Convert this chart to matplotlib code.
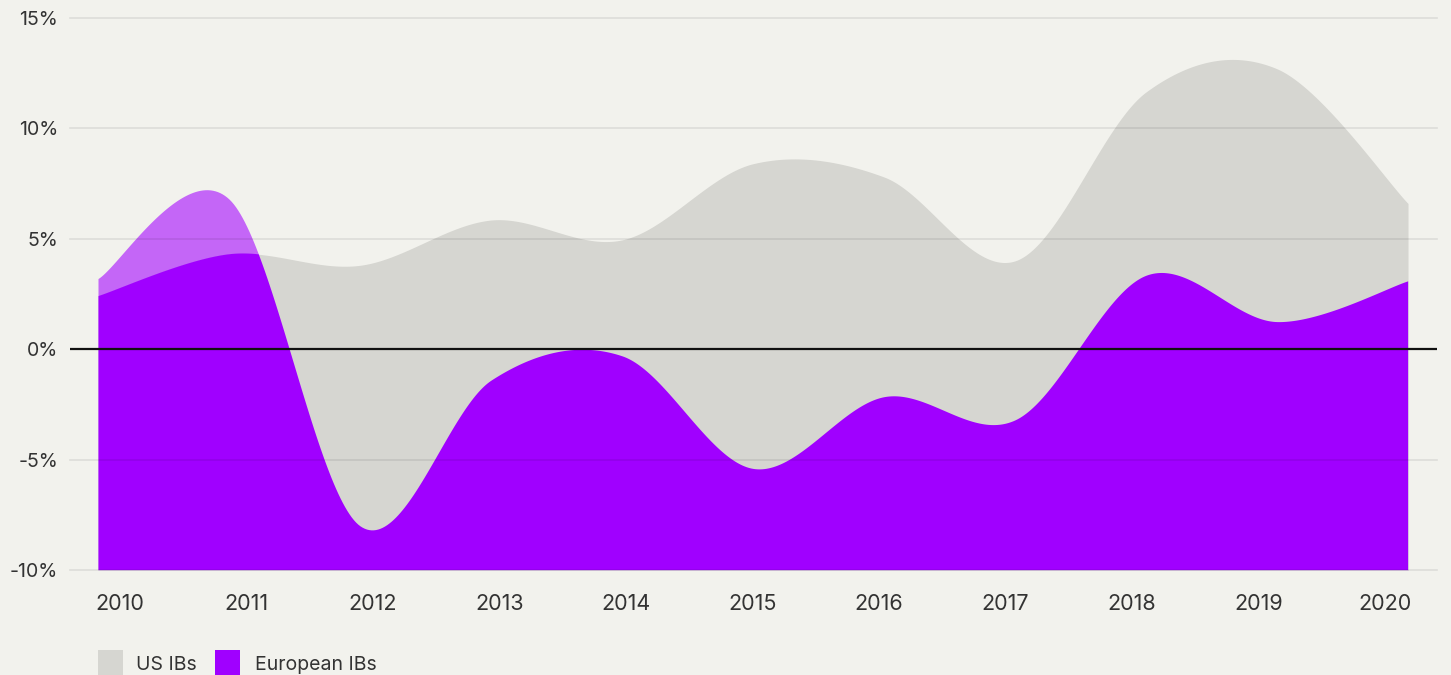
import numpy as np
import matplotlib
matplotlib.use("Agg")
import matplotlib.pyplot as plt
from matplotlib.patches import Rectangle

# ---- data ----
years = [2010, 2011, 2012, 2013, 2014, 2015, 2016, 2017, 2018, 2019, 2020]
us_ibs = [2.4, 4.3, 3.8, 5.85, 4.95, 8.4, 7.8, 4.0, 11.65, 12.7, 6.6]
eu_ibs = [3.2, 6.8, -8.0, -1.4, -0.3, -5.4, -2.15, -3.2, 3.35, 1.25, 3.1]
year_labels = [str(y) for y in years]
ytick_vals = [-10, -5, 0, 5, 10, 15]
ytick_labels = ["-10%", "-5%", "0%", "5%", "10%", "15%"]
series_names = ["US IBs", "European IBs"]

BG = "#f2f2ed"
GRAY = "#d6d6d1"
PURPLE = "#a000ff"
LIGHT_PURPLE = "#c466f7"
TEXT = "#333333"

plt.rcParams['font.family'] = ['Inter', 'DejaVu Sans']


def cardinal(xs, ys, n=60):
    """Catmull-Rom (cardinal, tension 0) curve like d3.curveCardinal."""
    xs = np.asarray(xs, float)
    ys = np.asarray(ys, float)
    px = np.concatenate([[xs[0]], xs, [xs[-1]]])
    py = np.concatenate([[ys[0]], ys, [ys[-1]]])
    t = np.linspace(0, 1, n)
    h00 = 2 * t**3 - 3 * t**2 + 1
    h10 = t**3 - 2 * t**2 + t
    h01 = -2 * t**3 + 3 * t**2
    h11 = t**3 - t**2
    ox, oy = [], []
    for i in range(len(xs) - 1):
        for p, o in ((px, ox), (py, oy)):
            p0, p1, p2, p3 = p[i], p[i + 1], p[i + 2], p[i + 3]
            m1 = (p2 - p0) / 2
            m2 = (p3 - p1) / 2
            seg = h00 * p1 + h10 * m1 + h01 * p2 + h11 * m2
            o.append(seg if i == 0 else seg[1:])
    return np.concatenate(ox), np.concatenate(oy)


W, H = 1451, 675
fig = plt.figure(figsize=(W / 100, H / 100), dpi=100, facecolor=BG)
ax = fig.add_axes([70 / W, (H - 570) / H, (1437 - 70) / W, (570 - 18) / H])
ax.set_facecolor(BG)

x0 = years[0] - 28 / 131
x1 = years[-1] + 29 / 131
ax.set_xlim(x0, x1)
ax.set_ylim(-10, 15)

ux, uy = cardinal(years, us_ibs)
ex, ey = cardinal(years, eu_ibs)

# light purple (European above US), under the gray area
ax.fill_between(ex, -10, ey, color=LIGHT_PURPLE, lw=0, zorder=1)
gray_poly = ax.fill_between(ux, -10, uy, color=GRAY, lw=0, zorder=2)
# solid purple, clipped to the gray area
purple_poly = ax.fill_between(ex, -10, ey, color=PURPLE, lw=0, zorder=3)
purple_poly.set_clip_path(gray_poly.get_paths()[0], ax.transData)

# gridlines
for v in ytick_vals:
    if v == 0:
        continue
    ax.axhline(v, color="black", alpha=0.085, lw=1.2, zorder=4, clip_on=False)
ax.axhline(0, color="#111111", lw=1.6, zorder=5)

for s in ax.spines.values():
    s.set_visible(False)

ax.set_yticks(ytick_vals)
ax.set_yticklabels(ytick_labels)
ax.tick_params(axis="y", length=0, pad=8.5, labelsize=14, labelcolor=TEXT)

label_pos = np.linspace(years[0] + 22 / 131, years[-1] - 23 / 131, len(years))
ax.set_xticks(label_pos)
ax.set_xticklabels(year_labels)
ax.tick_params(axis="x", length=0, pad=17, labelsize=15.5, labelcolor=TEXT)

# legend
def fig_rect(xp, yp, wp, hp, color):
    fig.add_artist(Rectangle((xp / W, (H - yp - hp) / H), wp / W, hp / H,
                             transform=fig.transFigure, color=color, lw=0))

fig_rect(98, 650, 25, 30, GRAY)
fig.text(136 / W, (H - 665) / H, series_names[0], fontsize=14, color=TEXT,
         va="center", ha="left")
fig_rect(215, 650, 25, 30, PURPLE)
fig.text(255 / W, (H - 665) / H, series_names[1], fontsize=14, color=TEXT,
         va="center", ha="left")

fig.savefig("out.png", dpi=100, facecolor=BG)
